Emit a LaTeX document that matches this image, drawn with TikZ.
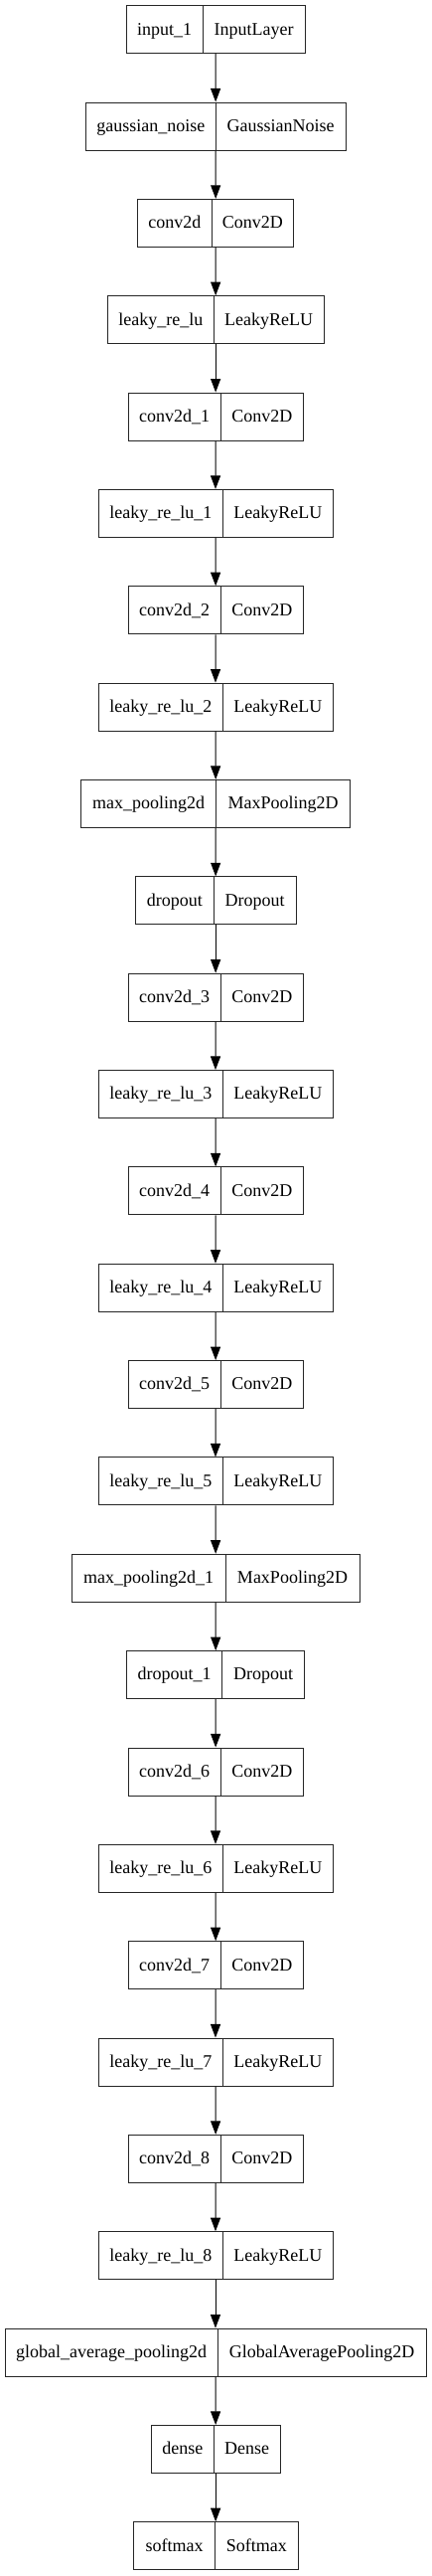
\documentclass[tikz,border=0pt]{standalone}
\usepackage{fontspec}
\setmainfont{Liberation Serif}
\usetikzlibrary{arrows.meta}
\begin{document}
\begin{tikzpicture}[x=0.75pt,y=-0.75pt,
  layerbox/.style={draw=black!85,line width=0.75pt,inner sep=0pt,minimum height=36pt},
  fieldtext/.style={anchor=base,inner sep=0pt,font=\fontsize{13.5}{16}\selectfont},
  flowarrow/.style={draw=black,line width=0.75pt,-{Triangle[length=10.2pt,width=7.5pt]}}]
\fill[white] (0,0) rectangle (435,2591);
\useasboundingbox (0,0) rectangle (435,2591);
\foreach \i/\a/\b/\xl/\xd/\xr in {
 0/input\_1/InputLayer/127/204.3/307,
 1/gaussian\_noise/GaussianNoise/86.3/217.3/348,
 2/conv2d/Conv2D/138.7/213/295.7,
 3/leaky\_re\_lu/LeakyReLU/108.3/215.3/326,
 4/conv2d\_1/Conv2D/129/222.3/305.3,
 5/leaky\_re\_lu\_1/LeakyReLU/99/224.7/335,
 6/conv2d\_2/Conv2D/129/222.3/305.3,
 7/leaky\_re\_lu\_2/LeakyReLU/99/224.7/335,
 8/max\_pooling2d/MaxPooling2D/81.7/217.7/352.7,
 9/dropout/Dropout/136.3/215.3/298,
 10/conv2d\_3/Conv2D/129/222.3/305.3,
 11/leaky\_re\_lu\_3/LeakyReLU/99/224.7/335,
 12/conv2d\_4/Conv2D/129/222.3/305.3,
 13/leaky\_re\_lu\_4/LeakyReLU/99/224.7/335,
 14/conv2d\_5/Conv2D/129/222.3/305.3,
 15/leaky\_re\_lu\_5/LeakyReLU/99/224.7/335,
 16/max\_pooling2d\_1/MaxPooling2D/72.3/227/362,
 17/dropout\_1/Dropout/127.7/223.7/306.7,
 18/conv2d\_6/Conv2D/129/222.3/305.3,
 19/leaky\_re\_lu\_6/LeakyReLU/99/224.7/335,
 20/conv2d\_7/Conv2D/129/222.3/305.3,
 21/leaky\_re\_lu\_7/LeakyReLU/99/224.7/335,
 22/conv2d\_8/Conv2D/129/222.3/305.3,
 23/leaky\_re\_lu\_8/LeakyReLU/99/224.7/335,
 24/global\_average\_pooling2d/GlobalAveragePooling2D/5/219.3/429,
 25/dense/Dense/152.3/215.3/282,
 26/softmax/Softmax/134.3/216.7/300}{
  \pgfmathsetmacro\w{(\xr-\xl)*0.75}
  \pgfmathsetmacro\cx{(\xl+\xr)/2}
  \pgfmathsetmacro\cy{29.7+97.35*\i}
  \pgfmathsetmacro\lx{(\xl+\xd)/2}
  \pgfmathsetmacro\rx{(\xd+\xr)/2}
  \node[layerbox,minimum width=\w pt] (b\i) at (\cx,\cy) {};
  \draw[black!85,line width=0.75pt] (\xd,\cy-24) -- (\xd,\cy+24);
  \node[fieldtext] (l\i) at (\lx,\cy+5.3) {\a};
  \node[fieldtext] (r\i) at (\rx,\cy+5.3) {\b};
}
\foreach \i [evaluate=\i as \j using int(\i+1)] in {0,...,25}
  \draw[flowarrow] (b\i.south) -- (b\j.north);
\end{tikzpicture}
\end{document}
